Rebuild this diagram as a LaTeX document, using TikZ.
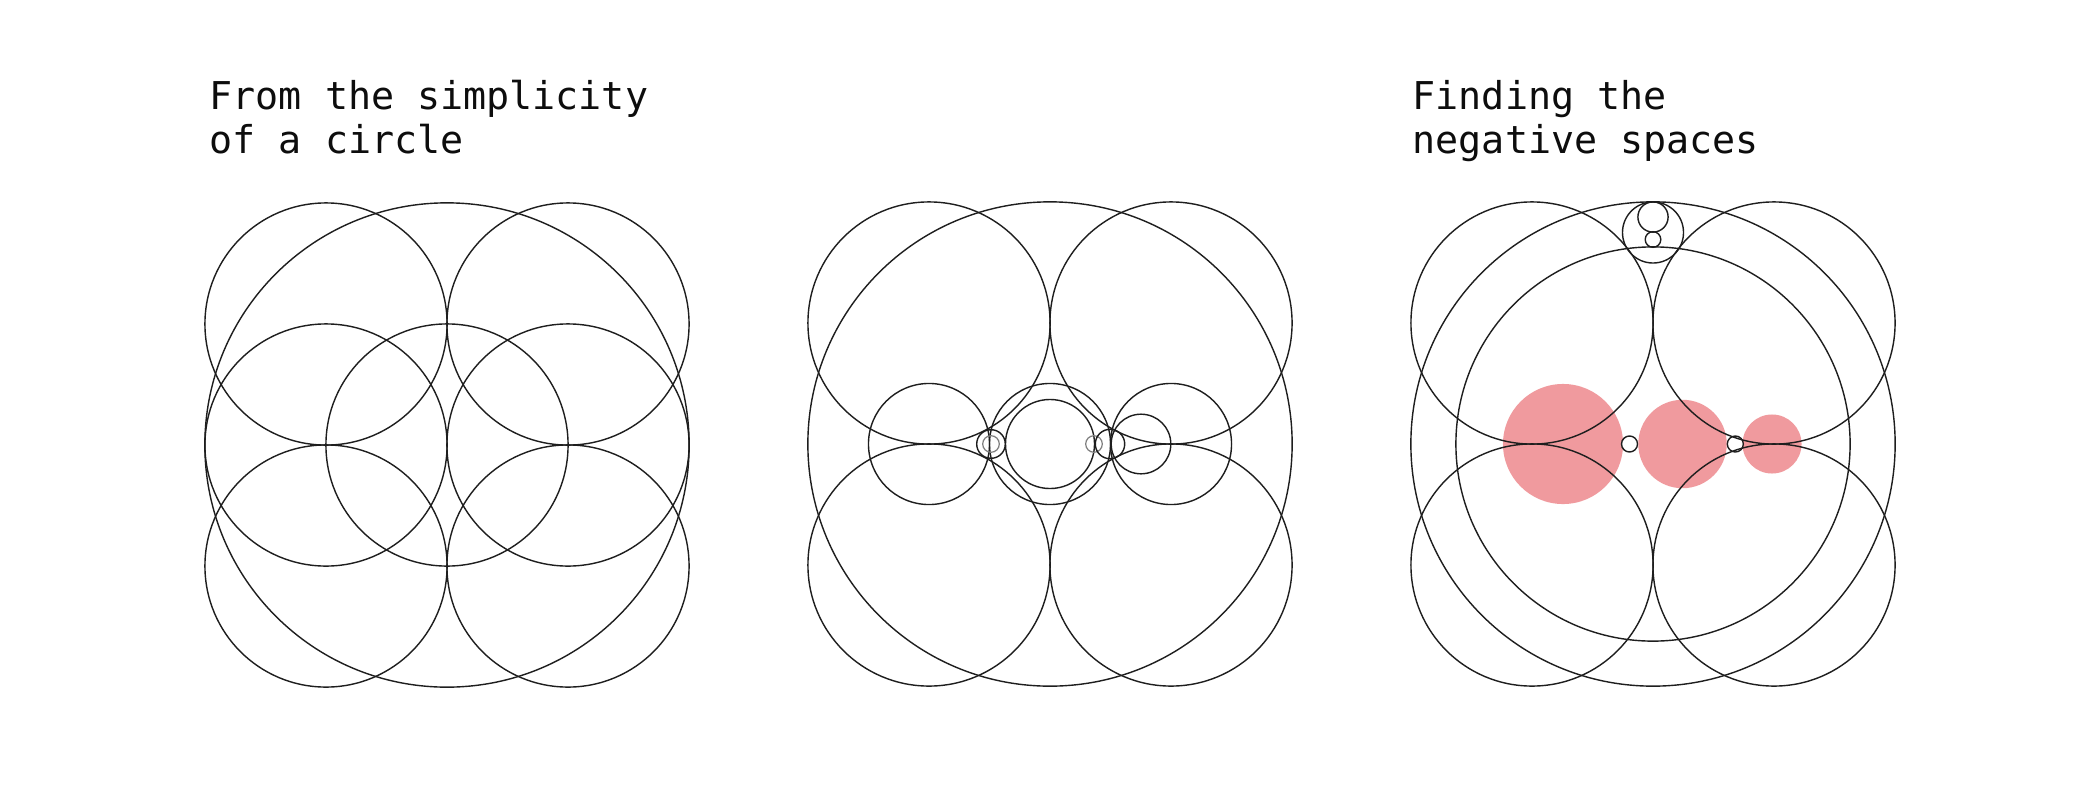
\documentclass[tikz,border=0pt]{standalone}
\usepackage{fontspec}
\setmonofont{DejaVu Sans Mono}
\definecolor{negpink}{RGB}{240,154,158}
\definecolor{inkline}{RGB}{30,30,30}
\begin{document}
\begin{tikzpicture}[x=0.01cm,y=-0.01cm,
  ring/.style={draw=inkline, line width=0.4pt},
  faintring/.style={draw=black!50, line width=0.35pt},
  blob/.style={fill=negpink, draw=none},
  hole/.style={fill=white, draw=none},
  title/.style={font=\ttfamily\fontsize{10.9pt}{12.2pt}\selectfont, anchor=base west, inner sep=0pt, text=black!95}]
\useasboundingbox[fill=white] (0,0) rectangle (2100,800);

% ---------- titles ----------
\node[title] (t1a) at (209,110) {From the simplicity};
\node[title] (t1b) at (209,153) {of a circle};
\node[title] (t3a) at (1412,110) {Finding the};
\node[title] (t3b) at (1412,153) {negative spaces};

% ---------- panel 1 ----------
\begin{scope}[shift={(447,445)}]
  \draw[ring] (0,0) circle[radius=2.42cm];
  \foreach \dx/\dy in {-121/-121,121/-121,-121/121,121/121,-121/0,0/0,121/0}
    \draw[ring] (\dx,\dy) circle[radius=1.21cm];
\end{scope}

% ---------- panel 2 ----------
\begin{scope}[shift={(1050,444)}]
  \draw[ring] (0,0) circle[radius=2.42cm];
  \foreach \dx/\dy in {-121/-121,121/-121,-121/121,121/121}
    \draw[ring] (\dx,\dy) circle[radius=1.21cm];
  \foreach \dx in {-121,0,121}
    \draw[ring] (\dx,0) circle[radius=0.605cm];
  \draw[ring] (0,0) circle[radius=0.445cm];
  \draw[ring] (-59,0) circle[radius=0.143cm];
  \draw[faintring] (-59,0) circle[radius=0.083cm];
  \draw[faintring] (44,0) circle[radius=0.083cm];
  \draw[ring] (60,0) circle[radius=0.147cm];
  \draw[ring] (91,0) circle[radius=0.298cm];
\end{scope}

% ---------- panel 3 ----------
\begin{scope}[shift={(1653,444)}]
  \fill[blob] (-90,0) circle[radius=0.60cm];
  \fill[blob] (29.5,0) circle[radius=0.442cm];
  \fill[blob] (119,0) circle[radius=0.295cm];
  \fill[hole] (-23.5,0) circle[radius=0.08cm];
  \fill[hole] (82.3,0) circle[radius=0.08cm];
  \draw[ring] (0,0) circle[radius=2.42cm];
  \foreach \dx/\dy in {-121/-121,121/-121,-121/121,121/121}
    \draw[ring] (\dx,\dy) circle[radius=1.21cm];
  \draw[ring] (0,0) circle[radius=1.97cm];
  \draw[ring] (0,-211.5) circle[radius=0.305cm];
  \draw[ring] (0,-227) circle[radius=0.151cm];
  \draw[ring] (0,-204.5) circle[radius=0.078cm];
  \draw[ring] (-23.5,0) circle[radius=0.08cm];
  \draw[ring] (82.3,0) circle[radius=0.08cm];
\end{scope}
\end{tikzpicture}
\end{document}
